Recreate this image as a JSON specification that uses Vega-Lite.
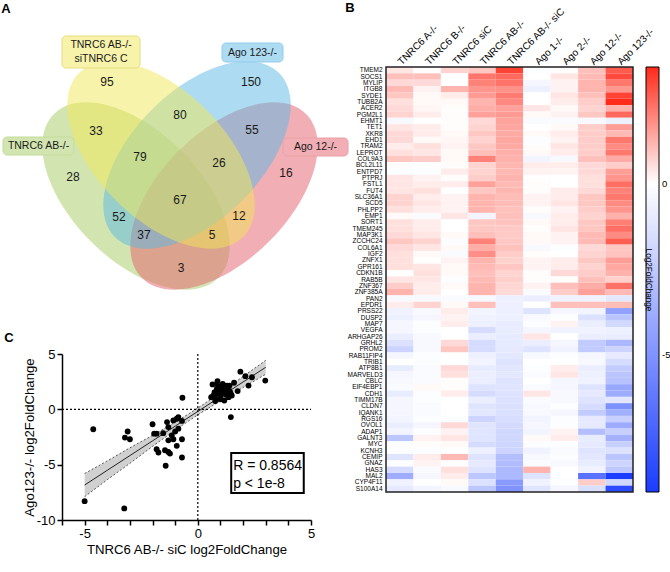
{
  "$schema": "https://vega.github.io/schema/vega-lite/v6.json",
  "width": 670,
  "height": 572,
  "padding": 0,
  "autosize": {"type": "none"},
  "background": "white",
  "config": {
    "view": {"stroke": null},
    "font": "Liberation Sans",
    "locale": {"number": {"decimal": ".", "thousands": ",", "grouping": [3], "currency": ["$", ""], "minus": "-"}}
  },
  "datasets": {
    "genes": [
      {"gene":"TMEM2","A":0.4,"B":0.05,"siC":0.7,"AB":0.9,"ABsiC":2.98,"Ago1":-0.1,"Ago2":0.05,"Ago12":1.0,"Ago123":2.6},
      {"gene":"SOCS1","A":1.0,"B":1.0,"siC":0.0,"AB":2.2,"ABsiC":2.39,"Ago1":0.0,"Ago2":0.4,"Ago12":1.1,"Ago123":2.9},
      {"gene":"MYLIP","A":0.6,"B":0.6,"siC":0.0,"AB":2.0,"ABsiC":2.24,"Ago1":-0.4,"Ago2":0.2,"Ago12":1.2,"Ago123":2.15},
      {"gene":"ITGB8","A":1.1,"B":0.2,"siC":1.2,"AB":1.7,"ABsiC":1.76,"Ago1":-0.7,"Ago2":0.2,"Ago12":1.2,"Ago123":1.65},
      {"gene":"SYDE1","A":0.9,"B":0.1,"siC":0.3,"AB":1.6,"ABsiC":2.1,"Ago1":0.0,"Ago2":0.4,"Ago12":1.0,"Ago123":3.0},
      {"gene":"TUBB2A","A":0.5,"B":0.1,"siC":0.1,"AB":1.2,"ABsiC":1.88,"Ago1":0.0,"Ago2":0.3,"Ago12":0.8,"Ago123":3.4},
      {"gene":"ACER2","A":0.6,"B":0.15,"siC":0.05,"AB":1.3,"ABsiC":1.5,"Ago1":0.4,"Ago2":0.1,"Ago12":0.7,"Ago123":1.25},
      {"gene":"PGM2L1","A":0.7,"B":0.3,"siC":0.05,"AB":1.5,"ABsiC":1.6,"Ago1":0.1,"Ago2":0.2,"Ago12":0.9,"Ago123":2.4},
      {"gene":"EHMT1","A":-0.3,"B":0.0,"siC":0.05,"AB":0.6,"ABsiC":1.46,"Ago1":-0.2,"Ago2":-0.2,"Ago12":-0.3,"Ago123":-0.7},
      {"gene":"TET1","A":0.4,"B":0.3,"siC":0.05,"AB":0.7,"ABsiC":1.43,"Ago1":0.0,"Ago2":0.1,"Ago12":0.8,"Ago123":1.55},
      {"gene":"XKR8","A":0.6,"B":0.3,"siC":0.1,"AB":0.9,"ABsiC":1.36,"Ago1":0.1,"Ago2":0.3,"Ago12":0.8,"Ago123":1.1},
      {"gene":"EHD1","A":0.6,"B":0.1,"siC":0.15,"AB":0.7,"ABsiC":1.4,"Ago1":-0.1,"Ago2":0.2,"Ago12":0.8,"Ago123":2.15},
      {"gene":"TRAM2","A":0.3,"B":0.5,"siC":0.2,"AB":0.9,"ABsiC":1.36,"Ago1":0.05,"Ago2":0.4,"Ago12":0.8,"Ago123":1.85},
      {"gene":"LEPROT","A":0.5,"B":0.4,"siC":0.1,"AB":1.0,"ABsiC":1.28,"Ago1":0.1,"Ago2":0.3,"Ago12":0.8,"Ago123":2.15},
      {"gene":"COL9A3","A":0.9,"B":0.8,"siC":0.1,"AB":2.0,"ABsiC":1.25,"Ago1":-0.5,"Ago2":-0.3,"Ago12":1.0,"Ago123":1.35},
      {"gene":"BCL2L11","A":0.05,"B":0.0,"siC":0.05,"AB":0.7,"ABsiC":1.17,"Ago1":0.3,"Ago2":0.3,"Ago12":0.6,"Ago123":0.8},
      {"gene":"ENTPD7","A":-0.1,"B":-0.1,"siC":0.3,"AB":0.7,"ABsiC":1.14,"Ago1":0.2,"Ago2":0.2,"Ago12":0.6,"Ago123":1.55},
      {"gene":"PTPRJ","A":0.4,"B":0.2,"siC":0.05,"AB":0.8,"ABsiC":1.2,"Ago1":-0.05,"Ago2":0.0,"Ago12":0.5,"Ago123":1.7},
      {"gene":"FSTL1","A":0.4,"B":0.3,"siC":0.3,"AB":1.5,"ABsiC":1.1,"Ago1":0.05,"Ago2":0.0,"Ago12":0.5,"Ago123":2.3},
      {"gene":"FUT4","A":0.4,"B":0.5,"siC":0.0,"AB":0.9,"ABsiC":1.17,"Ago1":0.05,"Ago2":0.3,"Ago12":0.6,"Ago123":2.0},
      {"gene":"SLC36A1","A":0.7,"B":0.3,"siC":0.2,"AB":1.2,"ABsiC":1.06,"Ago1":0.2,"Ago2":0.3,"Ago12":0.9,"Ago123":2.15},
      {"gene":"SCD5","A":0.7,"B":0.4,"siC":0.2,"AB":1.2,"ABsiC":1.06,"Ago1":0.2,"Ago2":0.4,"Ago12":0.9,"Ago123":1.85},
      {"gene":"PHLPP2","A":0.5,"B":0.3,"siC":0.2,"AB":1.2,"ABsiC":0.99,"Ago1":0.05,"Ago2":0.2,"Ago12":0.8,"Ago123":1.7},
      {"gene":"EMP1","A":0.1,"B":-0.2,"siC":0.4,"AB":-0.5,"ABsiC":1.02,"Ago1":-0.3,"Ago2":0.3,"Ago12":0.7,"Ago123":1.25},
      {"gene":"SORT1","A":0.5,"B":0.3,"siC":0.0,"AB":0.9,"ABsiC":0.95,"Ago1":0.1,"Ago2":0.3,"Ago12":0.9,"Ago123":2.05},
      {"gene":"TMEM245","A":0.5,"B":0.3,"siC":0.0,"AB":0.9,"ABsiC":0.84,"Ago1":0.05,"Ago2":0.4,"Ago12":0.9,"Ago123":2.3},
      {"gene":"MAP3K1","A":0.6,"B":0.4,"siC":0.1,"AB":1.0,"ABsiC":0.84,"Ago1":0.1,"Ago2":0.2,"Ago12":1.1,"Ago123":1.85},
      {"gene":"ZCCHC24","A":0.9,"B":0.7,"siC":-0.1,"AB":2.0,"ABsiC":0.87,"Ago1":0.1,"Ago2":0.2,"Ago12":1.1,"Ago123":2.55},
      {"gene":"COL6A1","A":0.6,"B":0.4,"siC":0.1,"AB":1.3,"ABsiC":0.99,"Ago1":-0.3,"Ago2":-0.1,"Ago12":0.6,"Ago123":0.9},
      {"gene":"IGF2","A":0.5,"B":0.1,"siC":-0.2,"AB":1.8,"ABsiC":0.81,"Ago1":0.05,"Ago2":0.0,"Ago12":0.7,"Ago123":0.95},
      {"gene":"ZNFX1","A":0.5,"B":0.0,"siC":0.2,"AB":1.2,"ABsiC":0.74,"Ago1":0.2,"Ago2":0.3,"Ago12":0.9,"Ago123":1.55},
      {"gene":"GPR161","A":0.5,"B":0.4,"siC":0.1,"AB":1.1,"ABsiC":0.91,"Ago1":0.2,"Ago2":0.3,"Ago12":0.7,"Ago123":1.4},
      {"gene":"CDKN1B","A":0.0,"B":0.5,"siC":0.1,"AB":1.0,"ABsiC":0.69,"Ago1":0.05,"Ago2":0.6,"Ago12":0.8,"Ago123":1.25},
      {"gene":"RAB5B","A":0.4,"B":0.4,"siC":-0.1,"AB":1.1,"ABsiC":0.77,"Ago1":0.05,"Ago2":0.05,"Ago12":1.0,"Ago123":0.75},
      {"gene":"ZNF367","A":0.8,"B":0.3,"siC":0.1,"AB":1.2,"ABsiC":0.65,"Ago1":0.2,"Ago2":1.0,"Ago12":1.3,"Ago123":2.25},
      {"gene":"ZNF385A","A":1.2,"B":0.3,"siC":0.0,"AB":1.2,"ABsiC":0.59,"Ago1":-0.2,"Ago2":0.8,"Ago12":1.5,"Ago123":1.1},
      {"gene":"PAN2","A":-0.3,"B":-0.3,"siC":-0.2,"AB":-0.3,"ABsiC":-0.7,"Ago1":-0.8,"Ago2":-0.6,"Ago12":-0.6,"Ago123":-1.05},
      {"gene":"EPDR1","A":0.3,"B":0.7,"siC":0.1,"AB":1.0,"ABsiC":-0.68,"Ago1":-0.05,"Ago2":1.0,"Ago12":1.0,"Ago123":1.05},
      {"gene":"PRSS22","A":-0.6,"B":-0.3,"siC":0.3,"AB":-0.5,"ABsiC":-0.7,"Ago1":-1.3,"Ago2":-0.4,"Ago12":-0.5,"Ago123":-4.35},
      {"gene":"DUSP2","A":-0.7,"B":-0.4,"siC":0.2,"AB":-0.6,"ABsiC":-0.7,"Ago1":-0.3,"Ago2":-0.1,"Ago12":-1.4,"Ago123":-2.7},
      {"gene":"MAP7","A":-0.4,"B":-0.1,"siC":0.3,"AB":-0.7,"ABsiC":-0.86,"Ago1":-0.1,"Ago2":0.2,"Ago12":-0.8,"Ago123":-1.75},
      {"gene":"VEGFA","A":-0.4,"B":-0.1,"siC":0.0,"AB":-1.6,"ABsiC":-0.86,"Ago1":-0.4,"Ago2":-0.6,"Ago12":-0.6,"Ago123":-0.7},
      {"gene":"ARHGAP26","A":-0.8,"B":-0.3,"siC":0.0,"AB":-0.8,"ABsiC":-0.93,"Ago1":0.4,"Ago2":0.0,"Ago12":-0.8,"Ago123":-0.85},
      {"gene":"GRHL2","A":-1.4,"B":-0.3,"siC":0.6,"AB":-1.6,"ABsiC":-0.93,"Ago1":-0.8,"Ago2":-0.4,"Ago12":-2.4,"Ago123":-3.3},
      {"gene":"PROM2","A":-2.0,"B":-0.3,"siC":0.9,"AB":-1.6,"ABsiC":-1.0,"Ago1":-1.3,"Ago2":-0.6,"Ago12":-2.4,"Ago123":-2.0},
      {"gene":"RAB11FIP4","A":-0.4,"B":-0.1,"siC":0.0,"AB":-0.7,"ABsiC":-1.08,"Ago1":-0.3,"Ago2":-0.1,"Ago12":-0.4,"Ago123":-1.0},
      {"gene":"TRIB1","A":0.0,"B":-0.1,"siC":0.0,"AB":-0.5,"ABsiC":-1.3,"Ago1":0.0,"Ago2":0.0,"Ago12":-0.3,"Ago123":-1.6},
      {"gene":"ATP8B1","A":-0.9,"B":-0.2,"siC":0.6,"AB":-0.9,"ABsiC":-1.15,"Ago1":-0.1,"Ago2":0.3,"Ago12":-0.8,"Ago123":-2.35},
      {"gene":"MARVELD3","A":-0.4,"B":-0.2,"siC":0.5,"AB":-0.8,"ABsiC":-1.08,"Ago1":-0.2,"Ago2":0.4,"Ago12":-0.7,"Ago123":-2.7},
      {"gene":"CBLC","A":-0.3,"B":-0.2,"siC":0.05,"AB":-0.8,"ABsiC":-1.3,"Ago1":0.0,"Ago2":-0.4,"Ago12":-0.6,"Ago123":-2.8},
      {"gene":"EIF4EBP1","A":-0.2,"B":0.1,"siC":0.05,"AB":-1.3,"ABsiC":-1.23,"Ago1":-0.2,"Ago2":-0.4,"Ago12":-1.3,"Ago123":-4.0},
      {"gene":"CDH1","A":-0.9,"B":-0.1,"siC":0.3,"AB":-1.6,"ABsiC":-1.3,"Ago1":0.4,"Ago2":-0.3,"Ago12":-1.0,"Ago123":-3.85},
      {"gene":"TIMM17B","A":-0.4,"B":-0.1,"siC":0.0,"AB":-0.8,"ABsiC":-1.36,"Ago1":-0.2,"Ago2":-0.3,"Ago12":-1.3,"Ago123":-1.15},
      {"gene":"CLDN7","A":-0.4,"B":-0.2,"siC":0.0,"AB":-1.2,"ABsiC":-1.42,"Ago1":-0.3,"Ago2":-0.1,"Ago12":-1.6,"Ago123":-5.1},
      {"gene":"IQANK1","A":-0.4,"B":-0.2,"siC":0.0,"AB":-1.1,"ABsiC":-1.45,"Ago1":-0.3,"Ago2":-0.4,"Ago12":-2.4,"Ago123":-3.7},
      {"gene":"RGS16","A":-0.5,"B":-0.1,"siC":-0.1,"AB":-2.0,"ABsiC":-1.53,"Ago1":-0.5,"Ago2":-0.1,"Ago12":-1.0,"Ago123":-2.15},
      {"gene":"OVOL1","A":-0.8,"B":-0.4,"siC":0.6,"AB":-1.2,"ABsiC":-1.74,"Ago1":-0.4,"Ago2":-0.1,"Ago12":-1.0,"Ago123":-3.9},
      {"gene":"ADAP1","A":-0.5,"B":-0.1,"siC":0.2,"AB":-1.2,"ABsiC":-1.82,"Ago1":-0.5,"Ago2":0.2,"Ago12":-3.0,"Ago123":-2.2},
      {"gene":"GALNT3","A":-2.6,"B":0.2,"siC":0.4,"AB":-1.2,"ABsiC":-1.82,"Ago1":0.1,"Ago2":0.3,"Ago12":-0.9,"Ago123":-3.6},
      {"gene":"MYC","A":-0.1,"B":0.05,"siC":0.1,"AB":-1.6,"ABsiC":-1.93,"Ago1":-0.1,"Ago2":-0.1,"Ago12":-1.0,"Ago123":-2.2},
      {"gene":"KCNH3","A":-0.1,"B":-0.1,"siC":0.0,"AB":-0.7,"ABsiC":-2.0,"Ago1":-0.6,"Ago2":-0.2,"Ago12":-1.2,"Ago123":-1.35},
      {"gene":"CEMIP","A":-1.2,"B":0.3,"siC":1.1,"AB":-1.3,"ABsiC":-3.0,"Ago1":-0.3,"Ago2":-0.1,"Ago12":-1.1,"Ago123":-2.7},
      {"gene":"GNAZ","A":-0.1,"B":0.2,"siC":-0.1,"AB":-1.0,"ABsiC":-3.1,"Ago1":-0.2,"Ago2":-0.3,"Ago12":-0.9,"Ago123":-2.0},
      {"gene":"HAS3","A":-1.6,"B":-0.2,"siC":0.5,"AB":-1.3,"ABsiC":-3.22,"Ago1":1.2,"Ago2":0.0,"Ago12":-0.6,"Ago123":-2.55},
      {"gene":"MAL2","A":-3.8,"B":-0.4,"siC":0.3,"AB":-2.6,"ABsiC":-3.25,"Ago1":-1.3,"Ago2":0.0,"Ago12":-6.5,"Ago123":-8.95},
      {"gene":"CYP4F11","A":-0.6,"B":0.0,"siC":0.1,"AB":-1.4,"ABsiC":-4.62,"Ago1":-0.6,"Ago2":-0.1,"Ago12":0.8,"Ago123":-1.8},
      {"gene":"S100A14","A":-1.0,"B":-0.5,"siC":-0.3,"AB":-2.6,"ABsiC":-5.0,"Ago1":-1.2,"Ago2":-0.4,"Ago12":-1.5,"Ago123":-8.3}
    ],
    "vennSets": [
      {"set":"AB","label":"TNRC6 AB-/-","vx":136,"vy":196,"bx1":3,"bx2":74,"by1":137,"by2":155,"tx":38.5,"ty":146},
      {"set":"Ago12","label":"Ago 12-/-","vx":224,"vy":196,"bx1":283,"bx2":348,"by1":138,"by2":156,"tx":315.5,"ty":147},
      {"set":"Ago123","label":"Ago 123-/-","vx":197,"vy":155,"bx1":222,"bx2":283,"by1":43,"by2":62,"tx":252.5,"ty":52.5},
      {"set":"siC","label":"TNRC6 AB-/-\nsiTNRC6 C","vx":161,"vy":155,"bx1":62,"bx2":140,"by1":36,"by2":68,"tx":101,"ty":45}
    ],
    "vennCounts": [
      {"n":"95","vx":107,"vy":82},{"n":"150","vx":251,"vy":82},{"n":"80","vx":180,"vy":115},
      {"n":"33","vx":96,"vy":131},{"n":"55","vx":252,"vy":130},{"n":"79","vx":140,"vy":157},
      {"n":"26","vx":219,"vy":163},{"n":"28","vx":73,"vy":177},{"n":"16","vx":286,"vy":173},
      {"n":"67","vx":180,"vy":200},{"n":"52","vx":119,"vy":217},{"n":"12","vx":239,"vy":216},
      {"n":"37","vx":144,"vy":235},{"n":"5","vx":212,"vy":235},{"n":"3","vx":181,"vy":268}
    ],
    "panelLetters": [
      {"t":"A","vx":6,"vy":9},{"t":"B","vx":350,"vy":8},{"t":"C","vx":9,"vy":338}
    ],
    "band": [
      {"x":-5,"lo":-7.9,"hi":-5.8,"fit":-6.84},
      {"x":-4,"lo":-6.36,"hi":-4.66,"fit":-5.51},
      {"x":-3,"lo":-4.88,"hi":-3.48,"fit":-4.18},
      {"x":-2,"lo":-3.35,"hi":-2.35,"fit":-2.85},
      {"x":-1,"lo":-1.89,"hi":-1.15,"fit":-1.52},
      {"x":0,"lo":-0.5,"hi":0.12,"fit":-0.19},
      {"x":1,"lo":0.76,"hi":1.52,"fit":1.14},
      {"x":2,"lo":1.97,"hi":2.97,"fit":2.47},
      {"x":3,"lo":3.17,"hi":4.43,"fit":3.8}
    ],
    "note": [
      {"label":"R = 0.8564\np < 1e-8","x":1.56,"y":-5.12,"x1":1.475,"x2":4.68,"y1":-3.95,"y2":-7.56}
    ]
  },
  "layer": [
    {
      "layer": [
        {
          "data": {"name": "vennSets"},
          "transform": [{"filter": "datum.set === 'AB'"}],
          "mark": {"type": "point", "shape": "M 1 0 C 1 0.305 0.5523 0.552 0 0.552 C -0.5523 0.552 -1 0.305 -1 0 C -1 -0.305 -0.5523 -0.552 0 -0.552 C 0.5523 -0.552 1 -0.305 1 0 Z", "size": 53824, "angle": 45, "filled": true, "fillOpacity": 0.5, "strokeOpacity": 0},
          "encoding": {
            "x": {"field": "vx", "type": "quantitative", "scale": {"domain": [0, 330], "range": [0, 330], "nice": false, "zero": false}, "axis": null},
            "y": {"field": "vy", "type": "quantitative", "scale": {"domain": [0, 300], "range": [0, 300], "nice": false, "zero": false}, "axis": null},
            "color": {"field": "set", "type": "nominal", "scale": {"domain": ["AB", "siC", "Ago123", "Ago12"], "range": ["#a6cc64", "#f2e856", "#5bb8e4", "#e4606c"]}, "legend": null}
          }
        },
        {
          "data": {"name": "vennSets"},
          "transform": [{"filter": "datum.set === 'Ago12' || datum.set === 'Ago123'"}],
          "mark": {"type": "point", "shape": "M 1 0 C 1 0.305 0.5523 0.552 0 0.552 C -0.5523 0.552 -1 0.305 -1 0 C -1 -0.305 -0.5523 -0.552 0 -0.552 C 0.5523 -0.552 1 -0.305 1 0 Z", "size": 53824, "angle": -45, "filled": true, "fillOpacity": 0.5, "strokeOpacity": 0},
          "encoding": {
            "x": {"field": "vx", "type": "quantitative"},
            "y": {"field": "vy", "type": "quantitative"},
            "color": {"field": "set", "type": "nominal", "legend": null}
          }
        },
        {
          "data": {"name": "vennSets"},
          "transform": [{"filter": "datum.set === 'siC'"}],
          "mark": {"type": "point", "shape": "M 1 0 C 1 0.305 0.5523 0.552 0 0.552 C -0.5523 0.552 -1 0.305 -1 0 C -1 -0.305 -0.5523 -0.552 0 -0.552 C 0.5523 -0.552 1 -0.305 1 0 Z", "size": 53824, "angle": 45, "filled": true, "fillOpacity": 0.5, "strokeOpacity": 0},
          "encoding": {
            "x": {"field": "vx", "type": "quantitative"},
            "y": {"field": "vy", "type": "quantitative"},
            "color": {"field": "set", "type": "nominal", "legend": null}
          }
        },
        {
          "data": {"name": "vennSets"},
          "mark": {"type": "rect", "fill": "white", "cornerRadius": 4},
          "encoding": {
            "x": {"field": "bx1", "type": "quantitative"},
            "x2": {"field": "bx2"},
            "y": {"field": "by1", "type": "quantitative"},
            "y2": {"field": "by2"}
          }
        },
        {
          "data": {"name": "vennSets"},
          "mark": {"type": "rect", "cornerRadius": 4, "fillOpacity": 0.5, "strokeWidth": 1},
          "encoding": {
            "x": {"field": "bx1", "type": "quantitative"},
            "x2": {"field": "bx2"},
            "y": {"field": "by1", "type": "quantitative"},
            "y2": {"field": "by2"},
            "color": {"field": "set", "type": "nominal", "legend": null},
            "stroke": {"field": "set", "type": "nominal", "scale": {"domain": ["AB", "siC", "Ago123", "Ago12"], "range": ["#c2dc98", "#e6dc80", "#92cdea", "#e9a0a6"]}, "legend": null}
          }
        },
        {
          "data": {"name": "vennSets"},
          "mark": {"type": "text", "fontSize": 10.5, "lineBreak": "\n", "lineHeight": 14, "color": "#1a1a1a", "align": "center", "baseline": "middle"},
          "encoding": {
            "x": {"field": "tx", "type": "quantitative"},
            "y": {"field": "ty", "type": "quantitative"},
            "text": {"field": "label"}
          }
        },
        {
          "data": {"name": "vennCounts"},
          "mark": {"type": "text", "fontSize": 12, "color": "#1a1a1a", "align": "center", "baseline": "middle"},
          "encoding": {
            "x": {"field": "vx", "type": "quantitative"},
            "y": {"field": "vy", "type": "quantitative"},
            "text": {"field": "n"}
          }
        },
        {
          "data": {"name": "panelLetters"},
          "mark": {"type": "text", "fontSize": 13, "fontWeight": "bold", "color": "black", "align": "center", "baseline": "middle"},
          "encoding": {
            "x": {"field": "vx", "type": "quantitative"},
            "y": {"field": "vy", "type": "quantitative"},
            "text": {"field": "t"}
          }
        }
      ]
    },
    {
      "layer": [
        {
          "data": {"name": "band"},
          "mark": {"type": "area", "color": "#d0d0d0", "opacity": 1, "interpolate": "monotone"},
          "encoding": {
            "x": {"field": "x", "type": "quantitative", "title": "TNRC6 AB-/- siC log2FoldChange",
              "scale": {"domain": [-6, 5], "range": [62, 311], "nice": false, "zero": false},
              "axis": {"orient": "bottom", "offset": -52, "values": [-6, -5, -4, -3, -2, -1, 0, 1, 2, 3, 4, 5], "labelExpr": "datum.value % 5 === 0 ? format(datum.value, 'd') : ''", "grid": false, "domainColor": "black", "domainWidth": 1.5, "tickColor": "black", "tickWidth": 1.5, "tickSize": 5, "labelFontSize": 13, "labelColor": "black", "labelPadding": 2, "labelOverlap": false, "labelFlush": false, "titleFontSize": 13.2, "titleFontWeight": "normal", "titleColor": "black", "titlePadding": 3}},
            "y": {"field": "lo", "type": "quantitative", "title": "Ago123-/- log2FoldChange",
              "scale": {"domain": [-10, 5], "range": [520, 354], "nice": false, "zero": false},
              "axis": {"orient": "left", "offset": -62, "values": [-10, -5, 0, 5], "labels": true, "labelExpr": "format(datum.value, 'd')", "grid": false, "domainColor": "black", "domainWidth": 1.5, "tickColor": "black", "tickWidth": 1.5, "tickSize": 5, "labelFontSize": 13, "labelColor": "black", "labelPadding": 2, "labelOverlap": false, "labelFlush": false, "titleFontSize": 13.2, "titleFontWeight": "normal", "titleColor": "black", "titlePadding": 0}},
            "y2": {"field": "hi"}
          }
        },
        {
          "data": {"name": "band"},
          "mark": {"type": "line", "color": "#333333", "strokeWidth": 0.8, "strokeDash": [2, 2], "interpolate": "monotone"},
          "encoding": {
            "x": {"field": "x", "type": "quantitative", "title": "TNRC6 AB-/- siC log2FoldChange"},
            "y": {"field": "lo", "type": "quantitative", "title": "Ago123-/- log2FoldChange"}
          }
        },
        {
          "data": {"name": "band"},
          "mark": {"type": "line", "color": "#333333", "strokeWidth": 0.8, "strokeDash": [2, 2], "interpolate": "monotone"},
          "encoding": {
            "x": {"field": "x", "type": "quantitative", "title": "TNRC6 AB-/- siC log2FoldChange"},
            "y": {"field": "hi", "type": "quantitative", "title": "Ago123-/- log2FoldChange"}
          }
        },
        {
          "data": {"name": "band"},
          "mark": {"type": "line", "color": "#222222", "strokeWidth": 1},
          "encoding": {
            "x": {"field": "x", "type": "quantitative", "title": "TNRC6 AB-/- siC log2FoldChange"},
            "y": {"field": "fit", "type": "quantitative", "title": "Ago123-/- log2FoldChange"}
          }
        },
        {
          "data": {"values": [{}]},
          "mark": {"type": "rule", "color": "black", "strokeWidth": 1.2, "strokeDash": [2, 2]},
          "encoding": {
            "x": {"datum": 0, "type": "quantitative", "title": "TNRC6 AB-/- siC log2FoldChange"},
            "y": {"datum": -10, "type": "quantitative", "title": "Ago123-/- log2FoldChange"},
            "y2": {"datum": 5}
          }
        },
        {
          "data": {"values": [{}]},
          "mark": {"type": "rule", "color": "black", "strokeWidth": 1.2, "strokeDash": [2, 2]},
          "encoding": {
            "x": {"datum": -6, "type": "quantitative", "title": "TNRC6 AB-/- siC log2FoldChange"},
            "x2": {"datum": 5},
            "y": {"datum": 0, "type": "quantitative", "title": "Ago123-/- log2FoldChange"}
          }
        },
        {
          "data": {"name": "genes"},
          "mark": {"type": "circle", "color": "black", "size": 34, "opacity": 1},
          "encoding": {
            "x": {"field": "ABsiC", "type": "quantitative", "title": "TNRC6 AB-/- siC log2FoldChange"},
            "y": {"field": "Ago123", "type": "quantitative", "title": "Ago123-/- log2FoldChange"}
          }
        },
        {
          "data": {"name": "note"},
          "mark": {"type": "rect", "fill": "white", "stroke": "black", "strokeWidth": 2},
          "encoding": {
            "x": {"field": "x1", "type": "quantitative", "title": "TNRC6 AB-/- siC log2FoldChange"},
            "x2": {"field": "x2"},
            "y": {"field": "y1", "type": "quantitative", "title": "Ago123-/- log2FoldChange"},
            "y2": {"field": "y2"}
          }
        },
        {
          "data": {"name": "note"},
          "mark": {"type": "text", "fontSize": 14, "lineBreak": "\n", "lineHeight": 18, "align": "left", "baseline": "middle", "color": "black"},
          "encoding": {
            "x": {"field": "x", "type": "quantitative", "title": "TNRC6 AB-/- siC log2FoldChange"},
            "y": {"field": "y", "type": "quantitative", "title": "Ago123-/- log2FoldChange"},
            "text": {"field": "label"}
          }
        }
      ]
    },
    {
      "layer": [
        {
          "data": {"name": "genes"},
          "transform": [{"fold": ["A", "B", "siC", "AB", "ABsiC", "Ago1", "Ago2", "Ago12", "Ago123"], "as": ["sample", "lfc"]}],
          "mark": {"type": "rect"},
          "encoding": {
            "x": {"field": "sample", "type": "nominal", "sort": null,
              "scale": {"domain": ["A", "B", "siC", "AB", "ABsiC", "Ago1", "Ago2", "Ago12", "Ago123"], "range": [386, 633], "paddingInner": 0, "paddingOuter": 0},
              "axis": {"orient": "top", "offset": -67, "title": null, "ticks": false, "domain": false, "labelAngle": -45, "labelAlign": "left", "labelBaseline": "middle", "labelPadding": 4, "labelFontSize": 10, "labelColor": "black", "labelOverlap": false, "labelLimit": 200,
                "labelExpr": "{'A':'TNRC6 A-/-','B':'TNRC6 B-/-','siC':'TNRC6 siC','AB':'TNRC6 AB-/-','ABsiC':'TNRC6 AB-/- siC','Ago1':'Ago 1-/-','Ago2':'Ago 2-/-','Ago12':'Ago 12-/-','Ago123':'Ago 123-/-'}[datum.value]"}},
            "y": {"field": "gene", "type": "nominal", "sort": null,
              "scale": {"domain": ["TMEM2","SOCS1","MYLIP","ITGB8","SYDE1","TUBB2A","ACER2","PGM2L1","EHMT1","TET1","XKR8","EHD1","TRAM2","LEPROT","COL9A3","BCL2L11","ENTPD7","PTPRJ","FSTL1","FUT4","SLC36A1","SCD5","PHLPP2","EMP1","SORT1","TMEM245","MAP3K1","ZCCHC24","COL6A1","IGF2","ZNFX1","GPR161","CDKN1B","RAB5B","ZNF367","ZNF385A","PAN2","EPDR1","PRSS22","DUSP2","MAP7","VEGFA","ARHGAP26","GRHL2","PROM2","RAB11FIP4","TRIB1","ATP8B1","MARVELD3","CBLC","EIF4EBP1","CDH1","TIMM17B","CLDN7","IQANK1","RGS16","OVOL1","ADAP1","GALNT3","MYC","KCNH3","CEMIP","GNAZ","HAS3","MAL2","CYP4F11","S100A14"], "range": [67, 492], "paddingInner": 0, "paddingOuter": 0},
              "axis": {"orient": "left", "offset": -386, "title": null, "ticks": false, "domain": false, "labelPadding": 4, "labelFontSize": 6.5, "labelColor": "black", "labelOverlap": false, "labelBound": false}},
            "color": {"field": "lfc", "type": "quantitative",
              "scale": {"domain": [-9, 0, 3.4], "range": ["#1a3cff", "#ffffff", "#ff2a1a"], "interpolate": "rgb"},
              "legend": {"orient": "none", "legendX": 645, "legendY": 67, "direction": "vertical", "gradientLength": 425, "gradientThickness": 13, "gradientStrokeColor": "black", "gradientStrokeWidth": 1, "values": [-5, 0], "labelFontSize": 9.5, "labelColor": "black", "labelOffset": 3, "title": "Log2FoldChange", "titleOrient": "right", "titleFontSize": 8.2, "titleFontWeight": "normal", "titleColor": "black", "titlePadding": -26, "titleAnchor": "middle"}}
          }
        },
        {
          "data": {"values": [{}]},
          "mark": {"type": "rect", "filled": false, "stroke": "#222222", "strokeWidth": 1.5},
          "encoding": {
            "x": {"datum": "A", "type": "nominal", "bandPosition": 0},
            "x2": {"datum": "Ago123", "bandPosition": 1},
            "y": {"datum": "TMEM2", "type": "nominal", "bandPosition": 0},
            "y2": {"datum": "S100A14", "bandPosition": 1}
          }
        }
      ]
    }
  ],
  "resolve": {
    "scale": {"x": "independent", "y": "independent", "color": "independent", "stroke": "independent"},
    "axis": {"x": "independent", "y": "independent"},
    "legend": {"color": "independent"}
  }
}
